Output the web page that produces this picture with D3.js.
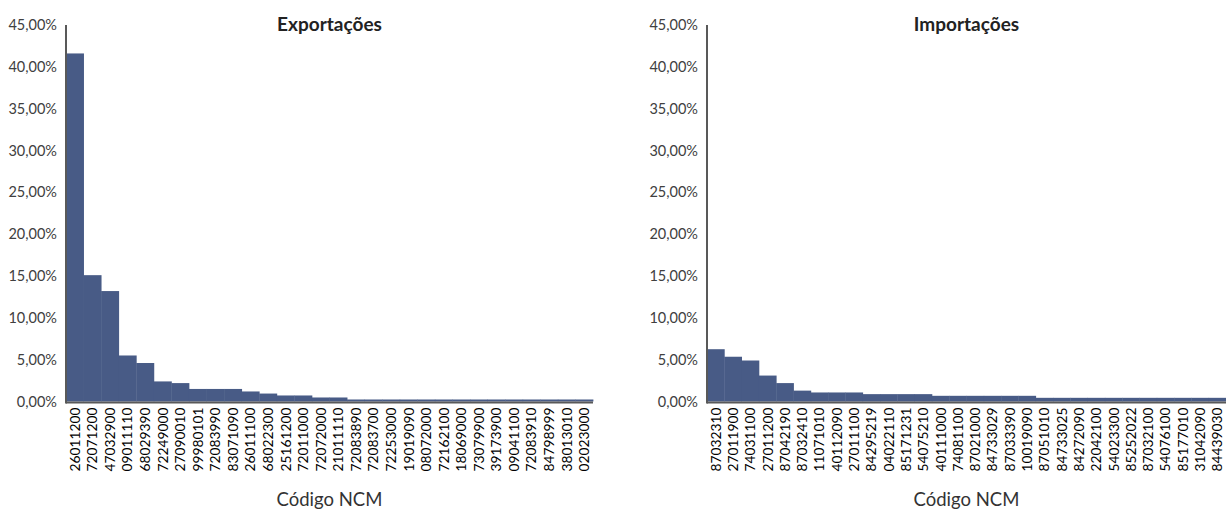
<!DOCTYPE html>
<html>
<head>
<meta charset="utf-8">
<script src="https://cdn.jsdelivr.net/npm/d3@7"></script>
<style>
  body { margin: 0; background: #fff; }
  svg { display: block; }
</style>
</head>
<body>
<script>
const width = 1226;
const height = 512;

const exportCodes = ["26011200", "72071200", "47032900", "09011110", "68029390", "72249000", "27090010", "99980101", "72083990", "83071090",
    "26011100", "68022300", "25161200", "72011000", "72072000", "21011110", "72083890", "72083700", "72253000", "19019090",
    "08072000", "72162100", "18069000", "73079900", "39173900", "09041100", "72083910", "84798999", "38013010", "02023000"];
const exportValues = [41.6, 15.1, 13.2, 5.5, 4.6, 2.4, 2.2, 1.5, 1.5, 1.5,
    1.2, 0.95, 0.72, 0.72, 0.48, 0.48, 0.24, 0.24, 0.24, 0.24,
    0.24, 0.24, 0.24, 0.24, 0.24, 0.24, 0.24, 0.24, 0.24, 0.24];

const importCodes = ["87032310", "27011900", "74031100", "27011200", "87042190", "87032410", "11071010", "40112090", "27011100", "84295219",
    "04022110", "85171231", "54075210", "40111000", "74081100", "87021000", "84733029", "87033390", "10019090", "87051010",
    "84733025", "84272090", "22042100", "54023300", "85252022", "87032100", "54076100", "85177010", "31042090", "84439030"];
const importValues = [6.25, 5.35, 4.9, 3.1, 2.2, 1.3, 1.08, 1.08, 1.08, 0.88,
    0.88, 0.88, 0.88, 0.68, 0.68, 0.68, 0.68, 0.68, 0.68, 0.44,
    0.44, 0.44, 0.44, 0.44, 0.44, 0.44, 0.44, 0.44, 0.44, 0.44];

const yTicks = [0, 5, 10, 15, 20, 25, 30, 35, 40, 45];

const barColor = "#485b86";
const axisColor = "#595959";
const textColor = "#404040";
const fontFamily = "Lato, 'Open Sans', sans-serif";

const svg = d3.select("body")
    .append("svg")
    .attr("width", width)
    .attr("height", height);

const fmt = d => d.toFixed(2).replace(".", ",") + "%";

function drawChart(title, codes, values, left, right) {
    const top = 25, bottom = 401.5;
    const x = d3.scaleBand().domain(codes).range([left, right]).padding(0);
    const y = d3.scaleLinear().domain([0, 45]).range([bottom, top]);
    const g = svg.append("g");

    // bars
    g.selectAll(".bar")
        .data(codes.map((c, i) => ({code: c, value: values[i]})))
        .join("rect")
        .attr("class", "bar")
        .attr("x", d => x(d.code))
        .attr("width", x.bandwidth() + 0.4)
        .attr("y", d => y(d.value))
        .attr("height", d => bottom - y(d.value))
        .attr("fill", barColor);

    // y axis
    const yAxis = g.append("g")
        .attr("transform", "translate(" + left + ",0)")
        .call(d3.axisLeft(y).tickValues(yTicks).tickSize(0).tickPadding(9).tickFormat(fmt));
    yAxis.select(".domain").remove();
    yAxis.selectAll("text")
        .attr("fill", textColor)
        .style("font-family", fontFamily)
        .style("font-size", "14.5px");

    // x axis
    const xAxis = g.append("g")
        .attr("transform", "translate(0," + (bottom + 1) + ")")
        .call(d3.axisBottom(x).tickSize(0));
    xAxis.select(".domain").remove();
    xAxis.selectAll("text")
        .attr("transform", "rotate(-90)")
        .attr("x", -5)
        .attr("y", 0)
        .attr("dy", "0.36em")
        .style("text-anchor", "end")
        .attr("fill", "#000")
        .style("font-family", fontFamily)
        .style("font-size", "13.8px");

    // axis lines
    g.append("line")
        .attr("x1", left).attr("x2", left)
        .attr("y1", top).attr("y2", bottom + 2)
        .attr("stroke", axisColor).attr("stroke-width", 2);
    g.append("line")
        .attr("x1", left).attr("x2", right)
        .attr("y1", bottom + 1).attr("y2", bottom + 1)
        .attr("stroke", axisColor).attr("stroke-width", 2);

    // title
    g.append("text")
        .attr("x", (left + right) / 2)
        .attr("y", 31)
        .attr("text-anchor", "middle")
        .attr("fill", "#222")
        .style("font-family", fontFamily)
        .style("font-weight", "bold")
        .style("font-size", "19px")
        .text(title);

    // x axis title
    g.append("text")
        .attr("x", (left + right) / 2)
        .attr("y", 506)
        .attr("text-anchor", "middle")
        .attr("fill", "#333")
        .style("font-family", fontFamily)
        .style("font-size", "18.5px")
        .text("Código NCM");
}

drawChart("Exportações", exportCodes, exportValues, 66, 593);
drawChart("Importações", importCodes, importValues, 707, 1226);
</script>
</body>
</html>
